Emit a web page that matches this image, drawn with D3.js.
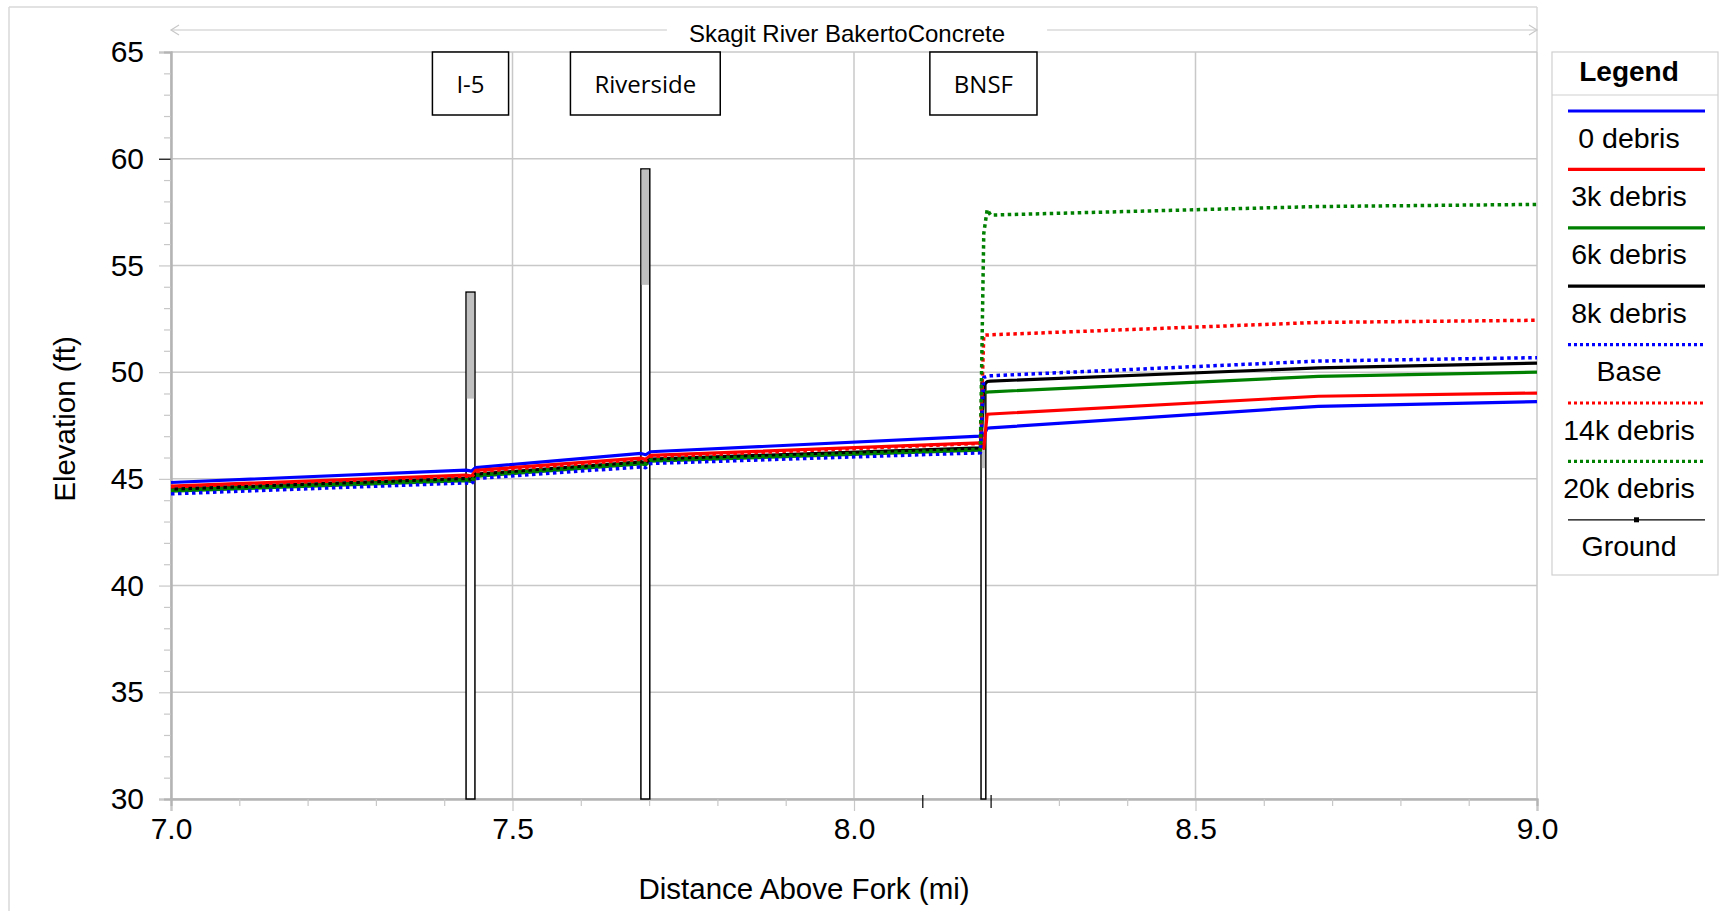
<!DOCTYPE html>
<html><head><meta charset="utf-8">
<script src="https://cdn.jsdelivr.net/npm/d3@7"></script>
<style>body{margin:0;background:#fff}svg{display:block}</style>
</head><body><svg id="c" width="1730" height="911"></svg>
<script>
// ---------- data ----------
const stations = [7.0, 7.432, 7.440, 7.446, 7.688, 7.695, 7.702, 8.185, 8.190, 8.195, 8.200, 8.68, 9.0];
const debris0  = [44.83, 45.41, 45.36, 45.53, 46.19, 46.13, 46.27, 47.00, 47.04, 47.37, 47.39, 48.40, 48.62];
const debris3k = [44.66, 45.18, 45.13, 45.40, 45.97, 45.92, 46.10, 46.69, 46.43, 48.02, 48.04, 48.87, 49.02];
const debris6k = [44.42, 44.92, 44.88, 45.12, 45.70, 45.66, 45.83, 46.35, 49.05, 49.06, 49.08, 49.80, 50.00];
const debris8k = [44.52, 45.02, 44.98, 45.22, 45.80, 45.76, 45.93, 46.45, 49.40, 49.56, 49.58, 50.20, 50.42];
const base     = [44.30, 44.81, 44.77, 45.02, 45.56, 45.52, 45.72, 46.22, 49.75, 49.81, 49.83, 50.52, 50.68];
const debris14k= [44.62, 45.12, 45.08, 45.32, 45.90, 45.86, 46.03, 46.66, 51.73, 51.74, 51.75, 52.33, 52.43];
const debris20k= [44.46, 44.96, 44.92, 45.17, 45.75, 45.71, 45.88, 46.38, 56.50, 57.62, 57.36, 57.76, 57.86];

const seriesNames = ["0 debris", "3k debris", "6k debris", "8k debris", "Base", "14k debris", "20k debris"];
const seriesValues = [debris0, debris3k, debris6k, debris8k, base, debris14k, debris20k];
const seriesColors = ["#0000ff", "#ff0000", "#008000", "#000000", "#0000ff", "#ff0000", "#008000"];
const seriesDotted = [false, false, false, false, true, true, true];

const bridgeNames = ["I-5", "Riverside", "BNSF"];
const bridgeLeft  = [7.432, 7.688, 8.186];
const bridgeRight = [7.445, 7.701, 8.193];
const bridgeTop   = [53.75, 59.52, 49.5];
const bridgeLowChord = [48.76, 54.09, 45.5];

const xMajor = [7.0, 7.5, 8.0, 8.5, 9.0];
const yMajor = [30, 35, 40, 45, 50, 55, 60, 65];
const chartTitle = "Skagit River BakertoConcrete";
const xTitle = "Distance Above Fork (mi)";
const yTitle = "Elevation (ft)";

// ---------- layout ----------
const svg = d3.select("#c");
const L = 171, R = 1537, T = 52, B = 799;
const x = d3.scaleLinear().domain([7, 9]).range([L, R]);
const y = d3.scaleLinear().domain([30, 65]).range([B, T]);
const gridC = "#c8c8c8";
const font = "'Liberation Sans', Arial, sans-serif";

// outer frame
svg.append("line").attr("x1", 9).attr("x2", R).attr("y1", 7).attr("y2", 7).attr("stroke", "#d9d9d9").attr("stroke-width", 1.5);
svg.append("line").attr("x1", 9).attr("x2", 9).attr("y1", 7).attr("y2", 911).attr("stroke", "#d9d9d9").attr("stroke-width", 1.5);
svg.append("line").attr("x1", R).attr("x2", R).attr("y1", 7).attr("y2", T).attr("stroke", "#d9d9d9").attr("stroke-width", 1.5);

// grid
const grid = svg.append("g");
grid.selectAll(".hg").data(yMajor).join("line")
  .attr("x1", L).attr("x2", R).attr("y1", d => y(d)).attr("y2", d => y(d))
  .attr("stroke", gridC).attr("stroke-width", 1.5);
grid.selectAll(".vg").data(xMajor).join("line")
  .attr("x1", d => x(d)).attr("x2", d => x(d)).attr("y1", T).attr("y2", B)
  .attr("stroke", gridC).attr("stroke-width", 1.5);

// axes
const yMinor = d3.range(30, 65.01, 1).filter(v => v % 5 !== 0);
const xMinor = d3.range(7, 9.001, 0.1).map(v => +v.toFixed(1)).filter(v => Math.abs(v*2 - Math.round(v*2)) > 1e-6);

const yAx = svg.append("g").attr("transform", `translate(${L},0)`)
  .call(d3.axisLeft(y).tickValues(yMajor).tickSize(12).tickPadding(15).tickFormat(d3.format("d")));
const yAxMinor = svg.append("g").attr("transform", `translate(${L},0)`)
  .call(d3.axisLeft(y).tickValues(yMinor).tickSize(7).tickFormat(""));
const xAx = svg.append("g").attr("transform", `translate(0,${B})`)
  .call(d3.axisBottom(x).tickValues(xMajor).tickSize(12).tickPadding(7).tickFormat(d3.format(".1f")));
const xAxMinor = svg.append("g").attr("transform", `translate(0,${B})`)
  .call(d3.axisBottom(x).tickValues(xMinor).tickSize(7).tickFormat(""));
[yAx, yAxMinor, xAx, xAxMinor].forEach(g => {
  g.select(".domain").attr("stroke", "#b4b4b4").attr("stroke-width", 2);
  g.selectAll(".tick line").attr("stroke", gridC).attr("stroke-width", 1.2);
  g.selectAll("text").attr("font-family", font).attr("font-size", 30).attr("fill", "#000");
});
// darker ticks seen in the reference
yAx.selectAll(".tick").filter(d => d === 60).select("line").attr("stroke", "#000");
xAxMinor.selectAll(".tick").filter(d => d === 8.1 || d === 8.2).select("line").attr("stroke", "#000").attr("y1", -4).attr("y2", 9);

// axis titles
svg.append("text").attr("x", 804).attr("y", 888).attr("text-anchor", "middle").attr("dominant-baseline", "central")
  .attr("font-family", font).attr("font-size", 29.5).text(xTitle);
svg.append("text").attr("transform", "translate(64,419) rotate(-90)").attr("text-anchor", "middle").attr("dominant-baseline", "central")
  .attr("font-family", font).attr("font-size", 29.5).text(yTitle);

// title with arrow line
const tt = svg.append("text").attr("x", 847).attr("y", 33).attr("text-anchor", "middle").attr("dominant-baseline", "central")
  .attr("font-family", font).attr("font-size", 24).text(chartTitle);
const tw = tt.node().getComputedTextLength();
const ay = 30;
svg.append("line").attr("x1", L).attr("x2", 847 - tw/2 - 22).attr("y1", ay).attr("y2", ay).attr("stroke", "#c8c8c8").attr("stroke-width", 1.2);
svg.append("line").attr("x1", 847 + tw/2 + 42).attr("x2", R).attr("y1", ay).attr("y2", ay).attr("stroke", "#c8c8c8").attr("stroke-width", 1.2);
svg.append("path").attr("d", `M${L+8},${ay-5}L${L},${ay}L${L+8},${ay+5}`).attr("fill", "none").attr("stroke", "#c8c8c8").attr("stroke-width", 1.2);
svg.append("path").attr("d", `M${R-8},${ay-5}L${R},${ay}L${R-8},${ay+5}`).attr("fill", "none").attr("stroke", "#c8c8c8").attr("stroke-width", 1.2);

// bridges
const br = svg.append("g");
bridgeNames.forEach((n, i) => {
  const x0 = x(bridgeLeft[i]), x1 = x(bridgeRight[i]);
  br.append("rect").attr("x", x0).attr("y", y(bridgeTop[i])).attr("width", x1 - x0).attr("height", y(30) - y(bridgeTop[i]))
    .attr("fill", "#fff").attr("stroke", "#000").attr("stroke-width", 1.5);
  br.append("rect").attr("x", x0 + 0.75).attr("y", y(bridgeTop[i]) + 0.75).attr("width", x1 - x0 - 1.5)
    .attr("height", y(bridgeLowChord[i]) - y(bridgeTop[i]) - 0.75).attr("fill", "#c0c0c0");
  // label box
  const cx = (x0 + x1) / 2;
  const t = br.append("text").attr("x", cx).attr("y", 83).attr("text-anchor", "middle").attr("dominant-baseline", "central")
    .attr("font-family", "'Open Sans', 'Noto Sans', sans-serif").attr("font-size", 24).text(n);
  const w = t.node().getComputedTextLength() + 48;
  br.insert("rect", "text").attr("x", cx - w/2).attr("y", T).attr("width", w).attr("height", 63)
    .attr("fill", "#fff").attr("stroke", "#000").attr("stroke-width", 1.5);
});

// lines
const line = d3.line().x((d, i) => x(stations[i])).y(d => y(d));
seriesValues.forEach((vals, i) => {
  svg.append("path").datum(vals).attr("d", line)
    .attr("fill", "none").attr("stroke", seriesColors[i]).attr("stroke-width", seriesDotted[i] ? 3.5 : 3.2)
    .attr("stroke-dasharray", seriesDotted[i] ? "3.5,3.5" : null)
    .attr("stroke-linejoin", "round");
});

// legend
const lg = svg.append("g");
const lgX0 = 1552, lgX1 = 1718;
lg.append("rect").attr("x", lgX0).attr("y", T).attr("width", lgX1 - lgX0).attr("height", 575 - T)
  .attr("fill", "#fff").attr("stroke", "#d0d0d0").attr("stroke-width", 1.2);
lg.append("line").attr("x1", lgX0).attr("x2", lgX1).attr("y1", 95).attr("y2", 95).attr("stroke", "#d0d0d0").attr("stroke-width", 1.2);
lg.append("text").attr("x", 1629).attr("y", 71).attr("text-anchor", "middle").attr("dominant-baseline", "central")
  .attr("font-family", font).attr("font-size", 28).attr("font-weight", "bold").text("Legend");
const legendNames = seriesNames.concat(["Ground"]);
legendNames.forEach((n, i) => {
  const ly = 111 + i * 58.4;
  if (i < seriesNames.length) {
    lg.append("line").attr("x1", 1568).attr("x2", 1705).attr("y1", ly).attr("y2", ly)
      .attr("stroke", seriesColors[i]).attr("stroke-width", 3.2).attr("stroke-dasharray", seriesDotted[i] ? "3,3" : null);
  } else {
    lg.append("line").attr("x1", 1568).attr("x2", 1705).attr("y1", ly).attr("y2", ly).attr("stroke", "#000").attr("stroke-width", 1.2);
    lg.append("rect").attr("x", 1634).attr("y", ly - 2.5).attr("width", 5).attr("height", 5).attr("fill", "#000");
  }
  lg.append("text").attr("x", 1629).attr("y", ly + 26.5).attr("text-anchor", "middle").attr("dominant-baseline", "central")
    .attr("font-family", font).attr("font-size", 28.5).text(n);
});
</script></body></html>
